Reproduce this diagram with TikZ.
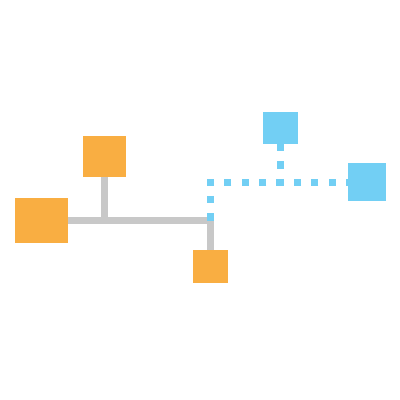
\documentclass[tikz,border=0pt]{standalone}
\usepackage{xcolor}
\usepackage{tikz}
\usetikzlibrary{calc,positioning}

\definecolor{boxorange}{HTML}{F9AE42}
\definecolor{boxblue}{HTML}{72CFF4}
\definecolor{linkgrey}{HTML}{C8C8C8}

\begin{document}
\begin{tikzpicture}[x=1pt,y=-1pt]

\tikzset{box/.style 2 args={fill=#1, inner sep=0pt, outer sep=0pt, minimum width=#2},
orangebox/.style={box={boxorange}{#1}},
bluebox/.style={box={boxblue}{#1}},
greylink/.style={draw=linkgrey, line width=7pt},
bluelink/.style={draw=boxblue, line width=7pt, dash pattern=on 7.3pt off 10.1pt}}

\useasboundingbox (0,0) rectangle (400,400);

%the grey tree
\node[orangebox=43pt, minimum height=41pt] (top) at (104.5,156.5) {};
\node[orangebox=53pt, minimum height=45pt] (left) at (41.5,220.5) {};
\node[orangebox=35pt, minimum height=33pt] (bottom) at (210.5,266.5) {};

\draw[greylink] (left.east) -| (bottom.north);
\draw[greylink] (top.south) -- (top.south |- left.east);

%now the dotted branch
\node[bluebox=35pt, minimum height=32pt] (upper) at (280.5,128) {};
\node[bluebox=38pt, minimum height=38pt] (right) at (367,182) {};

\draw[bluelink, dash phase=5.25pt] (right.west) -| (bottom.north |- left.east);
\draw[bluelink] (upper.south) -- (upper.south |- right.west);

\end{tikzpicture}
\end{document}
